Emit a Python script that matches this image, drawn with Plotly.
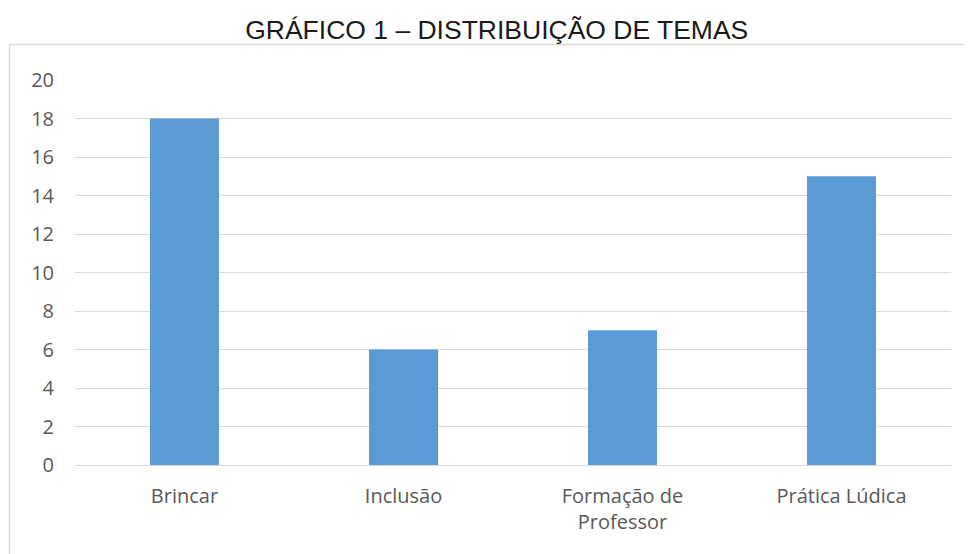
import plotly.graph_objects as go

categories = ["Brincar", "Inclusão", "Formação de<br>Professor", "Prática Lúdica"]
values = [18, 6, 7, 15]
y_ticks = [0, 2, 4, 6, 8, 10, 12, 14, 16, 18, 20]

fig = go.Figure(
    go.Bar(
        x=categories,
        y=values,
        marker=dict(color="#5B9BD5", line=dict(width=0)),
        hoverinfo="x+y",
    )
)

# light gray frame around the chart area (title sits above it)
fig.add_shape(
    type="rect",
    xref="paper", yref="paper",
    x0=-0.0748, x1=1.04, y0=-0.28, y1=1.092,
    line=dict(color="#d9d9d9", width=1.5),
    fillcolor="rgba(0,0,0,0)",
    layer="below",
)

# page body has an 8px margin, so the figure is 8px smaller than the window
fig.update_layout(
    width=964,
    height=546,
    paper_bgcolor="white",
    plot_bgcolor="white",
    bargap=0.685,
    showlegend=False,
    title=dict(
        text="GRÁFICO 1 – DISTRIBUIÇÃO DE TEMAS",
        x=0.507, xanchor="center",
        y=0.96, yanchor="middle",
        font=dict(family="Liberation Sans, Arial", size=26.5, color="#1a1a1a"),
    ),
    margin=dict(l=67, r=21, t=72, b=89),
    font=dict(family="Open Sans, sans-serif", size=20, color="#595959"),
    xaxis=dict(
        showgrid=False,
        showline=False,
        ticks="outside",
        ticklen=13,
        tickcolor="rgba(0,0,0,0)",
        tickfont=dict(size=20, color="#595959"),
    ),
    yaxis=dict(
        range=[0, 20],
        tickvals=y_ticks,
        showgrid=True,
        gridcolor="#d9d9d9",
        gridwidth=1,
        zeroline=True,
        zerolinecolor="#d9d9d9",
        zerolinewidth=1,
        showline=False,
        ticks="outside",
        ticklen=16,
        tickcolor="rgba(0,0,0,0)",
        tickfont=dict(size=20, color="#595959"),
    ),
)

fig.write_html("out.html")
